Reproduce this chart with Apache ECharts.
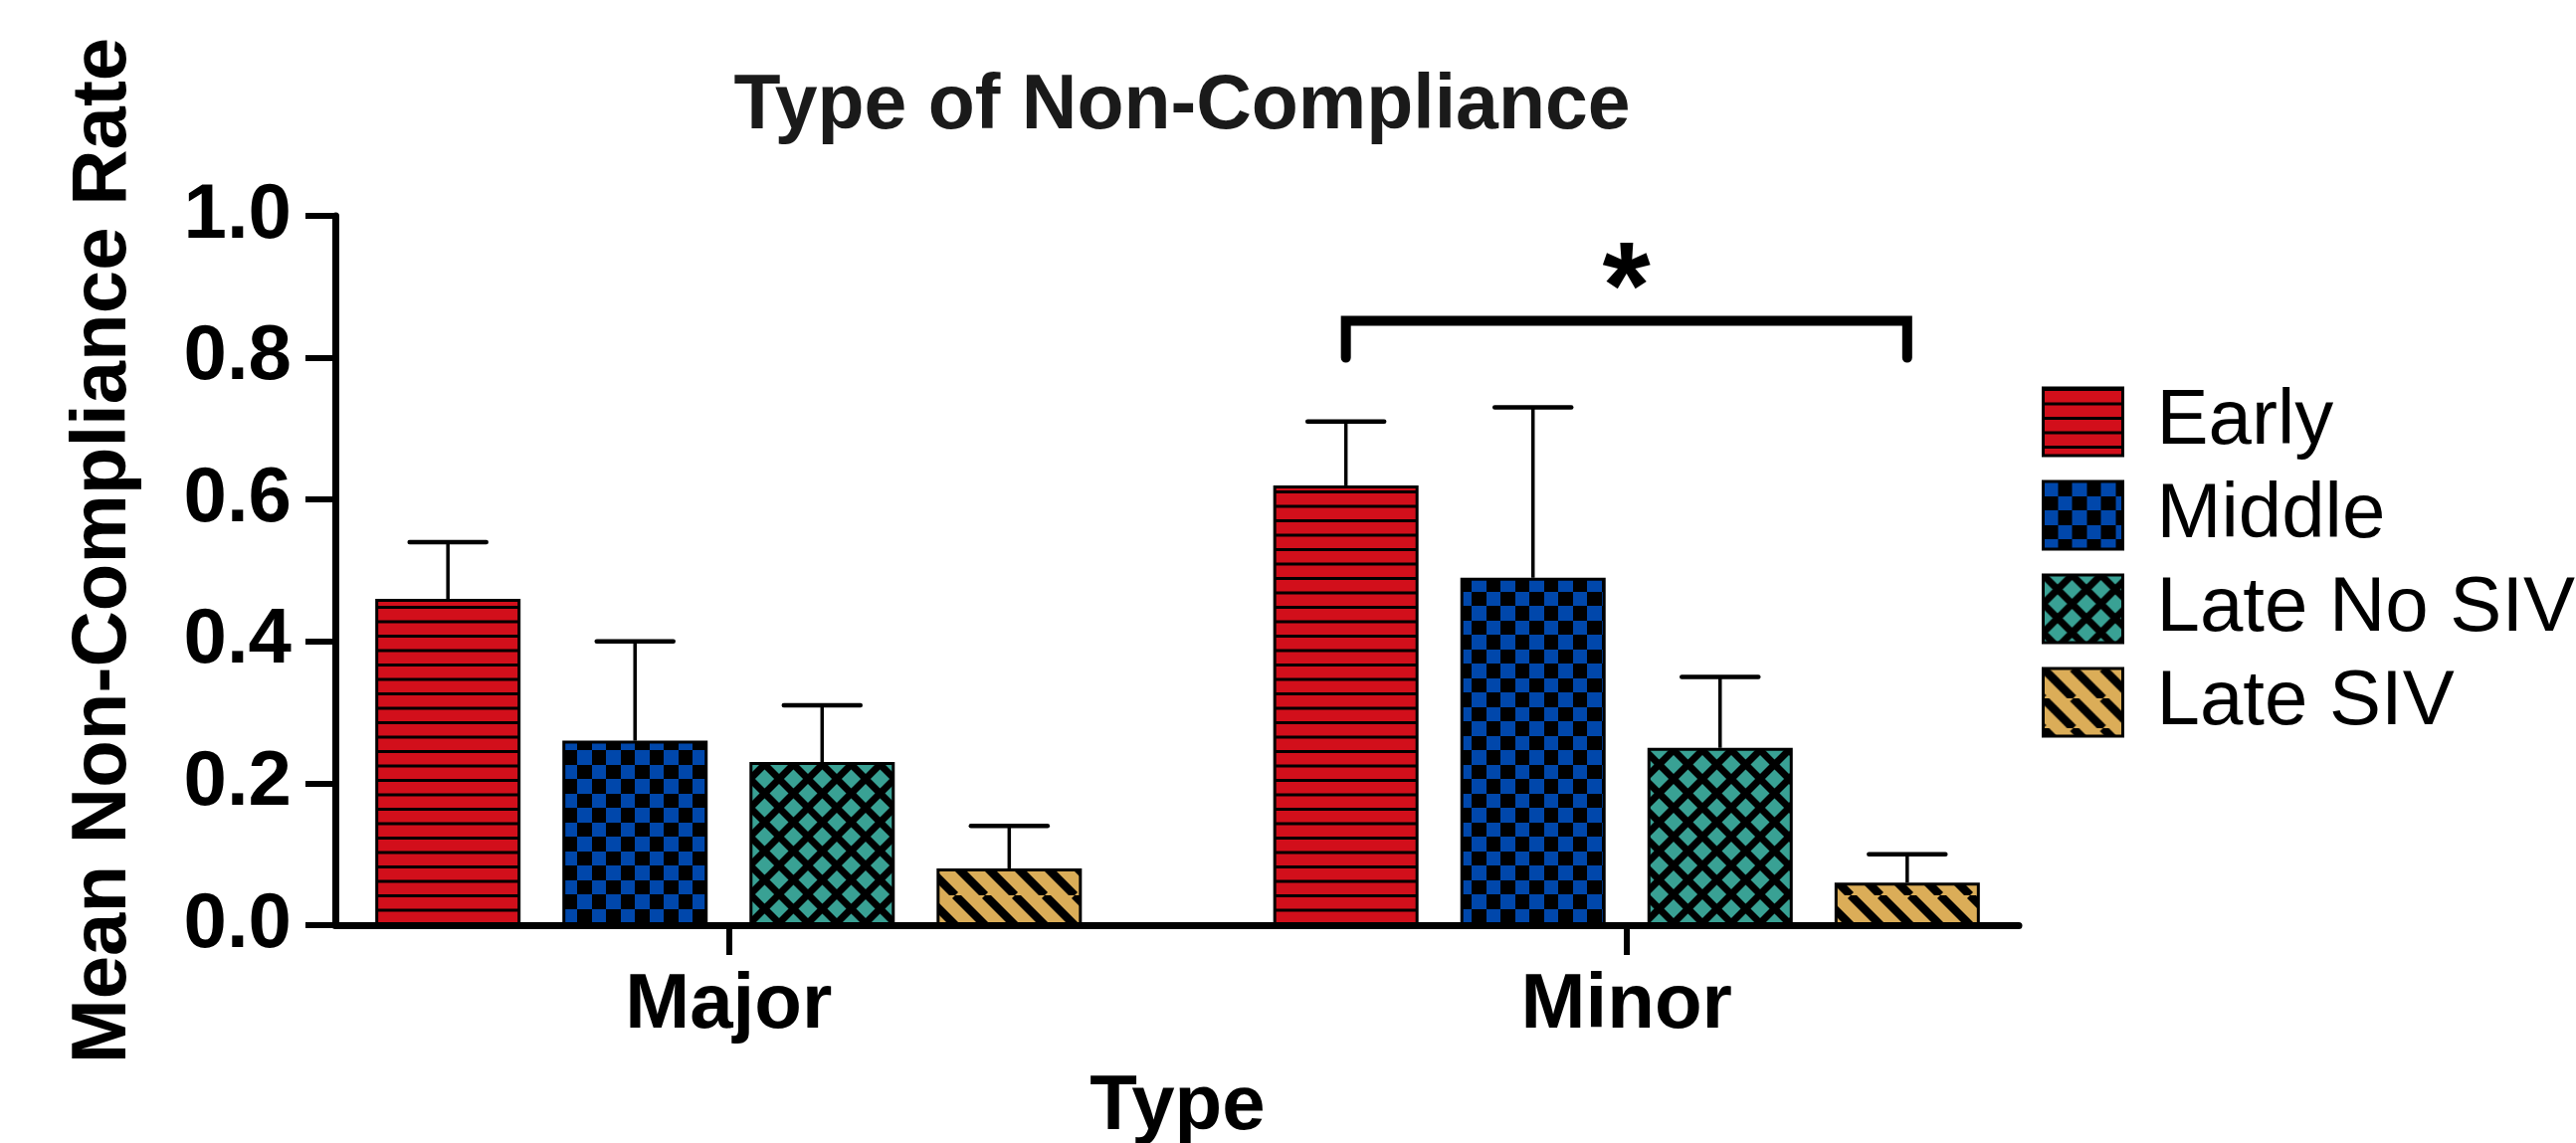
<!DOCTYPE html>
<html>
<head>
<meta charset="utf-8">
<script src="https://cdn.jsdelivr.net/npm/echarts@6/dist/echarts.min.js"></script>
<style>
html,body{margin:0;padding:0;background:#fff;}
#chart{width:2589px;height:1149px;}
</style>
</head>
<body>
<div id="chart"></div>
<script>
// ---- data ----
const categories = ['Major', 'Minor'];
const seriesNames = ['Early', 'Middle', 'Late No SIV', 'Late SIV'];
const earlyMean = [0.46, 0.62];
const middleMean = [0.26, 0.49];
const lateNoSivMean = [0.23, 0.25];
const lateSivMean = [0.08, 0.06];
const earlyUpper = [0.54, 0.71];
const middleUpper = [0.40, 0.73];
const lateNoSivUpper = [0.31, 0.35];
const lateSivUpper = [0.14, 0.10];
const yTickValues = [0.0, 0.2, 0.4, 0.6, 0.8, 1.0];
const sigCategory = 1;      // Minor
const sigFromSeries = 0;    // Early
const sigToSeries = 3;      // Late SIV
const sigBarValue = 0.852;
const sigLegValue = 0.80;
const sigStarValue = 0.89;
const sigLabel = '*';

const means = [earlyMean, middleMean, lateNoSivMean, lateSivMean];
const uppers = [earlyUpper, middleUpper, lateNoSivUpper, lateSivUpper];

// ---- styles ----
const FONT = '"Liberation Sans", Arial, Helvetica, sans-serif';
const BAR_W = 146;
const BAR_GAP = 0.288;
const PITCH = BAR_W * (1 + BAR_GAP);
const CAP_W = 77;

function makeCanvas(w, h) {
  const c = document.createElement('canvas');
  c.width = w; c.height = h;
  return c;
}
function stripesPattern() {
  const c = makeCanvas(8, 29), g = c.getContext('2d');
  g.fillStyle = '#D20F1B'; g.fillRect(0, 0, 8, 29);
  g.fillStyle = '#000'; g.fillRect(0, 0, 8, 3); g.fillRect(0, 14.5, 8, 3);
  return c;
}
function checkerPattern() {
  const c = makeCanvas(29, 29), g = c.getContext('2d');
  g.fillStyle = '#000'; g.fillRect(0, 0, 29, 29);
  g.fillStyle = '#0047AB'; g.fillRect(0, 0, 15, 15); g.fillRect(15, 15, 14, 14);
  return c;
}
function crossPattern() {
  const P = 29;
  const c = makeCanvas(P, P), g = c.getContext('2d');
  g.fillStyle = '#39A194'; g.fillRect(0, 0, P, P);
  g.strokeStyle = '#000'; g.lineWidth = 7;
  for (let k = -1; k <= 1; k++) {
    g.beginPath(); g.moveTo(k * P, 0); g.lineTo(k * P + P, P); g.stroke();
    g.beginPath(); g.moveTo(k * P, P); g.lineTo(k * P + P, 0); g.stroke();
  }
  return c;
}
function diagPattern() {
  const P = 30;
  const c = makeCanvas(P, P), g = c.getContext('2d');
  g.fillStyle = '#DBAD58'; g.fillRect(0, 0, P, P);
  g.strokeStyle = '#000'; g.lineWidth = 8.5;
  for (let k = -1; k <= 1; k++) {
    g.beginPath(); g.moveTo(k * P, 0); g.lineTo(k * P + P, P); g.stroke();
  }
  return c;
}
const patterns = [stripesPattern(), checkerPattern(), crossPattern(), diagPattern()];

const barSeries = seriesNames.map((name, i) => ({
  name: name,
  type: 'bar',
  xAxisIndex: 0,
  yAxisIndex: 0,
  barWidth: BAR_W,
  barGap: (BAR_GAP * 100) + '%',
  data: means[i],
  itemStyle: {
    color: { image: patterns[i], repeat: 'repeat' },
    borderColor: '#000',
    borderWidth: 3
  },
  emphasis: { disabled: true },
  z: 3
}));

const errData = [];
seriesNames.forEach((n, s) => {
  categories.forEach((c, ci) => {
    errData.push([ci, s, means[s][ci], uppers[s][ci]]);
  });
});

const errSeries = {
  type: 'custom',
  name: 'errors',
  xAxisIndex: 0,
  yAxisIndex: 0,
  data: errData,
  encode: { x: 0, y: [2, 3] },
  z: 2,
  silent: true,
  renderItem: function (params, api) {
    const ci = api.value(0), s = api.value(1);
    const base = api.coord([ci, api.value(2)]);
    const top = api.coord([ci, api.value(3)]);
    const x = base[0] + (s - 1.5) * PITCH;
    return {
      type: 'group',
      children: [
        { type: 'line', shape: { x1: x, y1: base[1], x2: x, y2: top[1] },
          style: { stroke: '#000', lineWidth: 3.5 } },
        { type: 'line', shape: { x1: x - CAP_W / 2, y1: top[1], x2: x + CAP_W / 2, y2: top[1] },
          style: { stroke: '#000', lineWidth: 4.5, lineCap: 'round' } }
      ]
    };
  }
};

const sigSeries = {
  type: 'custom',
  name: 'significance',
  xAxisIndex: 0,
  yAxisIndex: 0,
  data: [[sigCategory, sigFromSeries, sigToSeries, sigBarValue, sigLegValue, sigStarValue]],
  encode: { x: 0, y: 3 },
  z: 4,
  silent: true,
  renderItem: function (params, api) {
    const ci = api.value(0);
    const top = api.coord([ci, api.value(3)]);
    const leg = api.coord([ci, api.value(4)]);
    const star = api.coord([ci, api.value(5)]);
    const x1 = top[0] + (api.value(1) - 1.5) * PITCH;
    const x2 = top[0] + (api.value(2) - 1.5) * PITCH;
    const xm = (x1 + x2) / 2;
    return {
      type: 'group',
      children: [
        { type: 'polyline',
          shape: { points: [[x1, leg[1]], [x1, top[1]], [x2, top[1]], [x2, leg[1]]] },
          style: { stroke: '#000', lineWidth: 10, lineCap: 'round', lineJoin: 'miter', fill: null } },
        { type: 'text', x: xm, y: star[1],
          style: { text: sigLabel, fontFamily: FONT, fontWeight: 'bold', fontSize: 124,
                   fill: '#000', align: 'center', verticalAlign: 'middle' } }
      ]
    };
  }
};

const chart = echarts.init(document.getElementById('chart'), null, { renderer: 'canvas' });
chart.setOption({
  animation: false,
  backgroundColor: '#fff',
  title: {
    text: 'Type of Non-Compliance',
    left: 1183,
    top: 64,
    textAlign: 'center',
    textStyle: { fontFamily: FONT, fontWeight: 'bold', fontSize: 77, color: '#1a1a1a' }
  },
  legend: {
    data: seriesNames,
    orient: 'vertical',
    left: 2047,
    top: 380,
    icon: 'rect',
    itemWidth: 80,
    itemHeight: 68,
    itemGap: 16,
    selectedMode: false,
    itemStyle: { borderColor: '#000', borderWidth: 3 },
    textStyle: { fontFamily: FONT, fontSize: 78, color: '#000', padding: [0, 0, 0, 29] }
  },
  grid: [
    { left: 281, right: 503, top: 217, bottom: 219, outerBoundsMode: 'none', containLabel: false },
    { left: 337, right: 560, top: 217, bottom: 219, outerBoundsMode: 'none', containLabel: false }
  ],
  xAxis: [
    {
      type: 'category', gridIndex: 0, data: categories,
      axisLine: { show: false },
      axisTick: { show: true, alignWithLabel: true, length: 30, lineStyle: { color: '#000', width: 6 } },
      axisLabel: { fontFamily: FONT, fontWeight: 'bold', fontSize: 78, color: '#000', margin: 42 },
      name: 'Type', nameLocation: 'middle', nameGap: 144,
      nameTextStyle: { fontFamily: FONT, fontWeight: 'bold', fontSize: 78, color: '#000' }
    },
    {
      type: 'value', gridIndex: 1, min: 0, max: 1, z: 10,
      axisLine: { show: true, lineStyle: { color: '#000', width: 7 } },
      axisTick: { show: false }, axisLabel: { show: false }, splitLine: { show: false }
    }
  ],
  yAxis: [
    { type: 'value', gridIndex: 0, min: 0, max: 1, show: false },
    {
      type: 'value', gridIndex: 1, min: 0, max: 1, interval: 0.2, z: 10,
      axisLine: { show: true, lineStyle: { color: '#000', width: 7 } },
      axisTick: { show: true, length: 30, lineStyle: { color: '#000', width: 6 } },
      splitLine: { show: false },
      axisLabel: {
        fontFamily: FONT, fontWeight: 'bold', fontSize: 78, color: '#000', margin: 44,
        formatter: function (v) {
          const idx = yTickValues.findIndex(t => Math.abs(t - v) < 1e-9);
          return idx >= 0 ? yTickValues[idx].toFixed(1) : '';
        }
      },
      name: 'Mean Non-Compliance Rate', nameLocation: 'middle', nameGap: 194,
      nameTextStyle: { fontFamily: FONT, fontWeight: 'bold', fontSize: 78, color: '#000', padding: [0, 0, 0, 40] }
    }
  ],
  series: barSeries.concat([errSeries, sigSeries])
});
</script>
</body>
</html>
